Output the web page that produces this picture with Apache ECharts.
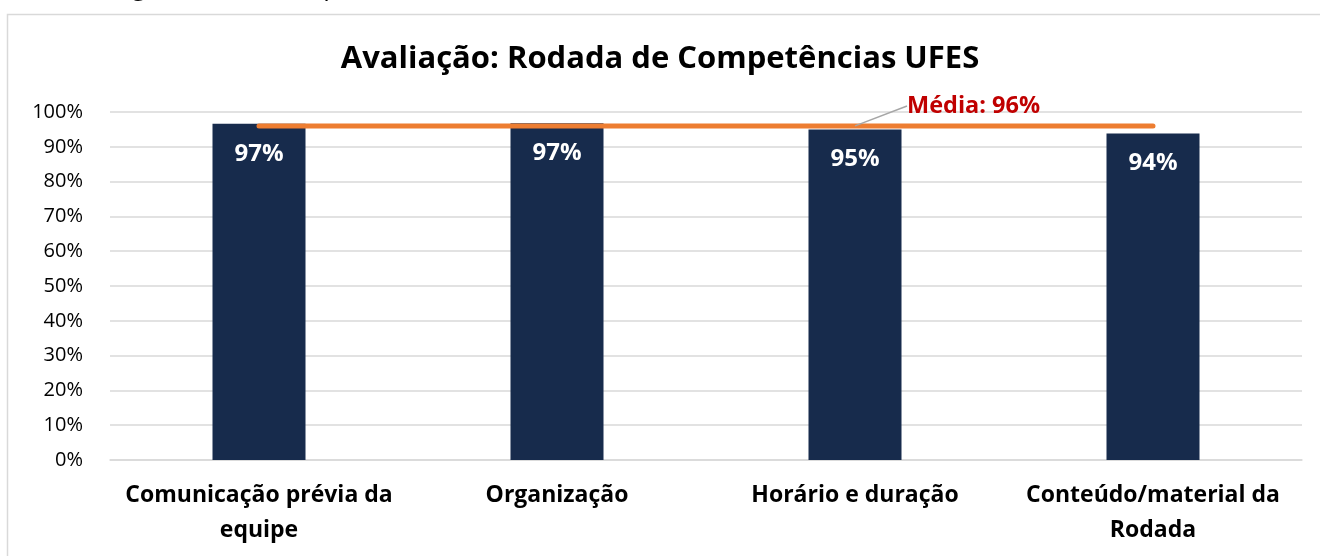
<!DOCTYPE html>
<html>
<head>
<meta charset="utf-8">
<script src="https://cdn.jsdelivr.net/npm/echarts@6/dist/echarts.min.js"></script>
<style>
  html, body { margin: 0; padding: 0; background: #fff; }
  #chart { width: 1320px; height: 556px; }
</style>
</head>
<body>
<div id="chart"></div>
<script>
// categorias e valores (%)
const categories = [
  "Comunicação prévia da\nequipe",
  "Organização",
  "Horário e duração",
  "Conteúdo/material da\nRodada",
];
const values = [96.6, 96.8, 95.0, 93.8];
const valueLabels = ["97%", "97%", "95%", "94%"];
const media = [96, 96, 96, 96];
const mediaLabel = "Média: 96%";
const yTicks = [0, 10, 20, 30, 40, 50, 60, 70, 80, 90, 100];

const font = "'Open Sans', 'Noto Sans', sans-serif";
const myChart = echarts.init(document.getElementById("chart"));

const option = {
  animation: false,
  textStyle: { fontFamily: font },
  title: {
    text: "Avaliação: Rodada de Competências UFES",
    left: "center",
    top: 39,
    textStyle: { fontSize: 31, fontWeight: "bold", color: "#000", fontFamily: font },
  },
  graphic: [
    // moldura
    {
      type: "rect",
      shape: { x: 7.5, y: 14.5, width: 1330, height: 560 },
      style: { fill: "none", stroke: "#D9D9D9", lineWidth: 1.5 },
      z: -1,
    },
    // texto cortado no topo
    {
      type: "text",
      left: 105,
      top: -25,
      style: {
        text: "O gráfico abaixo apresenta os itens avaliados.",
        font: "26px " + font,
        fill: "#000",
      },
    },
  ],
  grid: { left: 110, right: 18, top: 112, bottom: 96 },
  xAxis: {
    type: "category",
    data: categories,
    axisTick: { show: false },
    axisLine: { lineStyle: { color: "#D9D9D9", width: 1.5 } },
    axisLabel: {
      color: "#000",
      fontSize: 23,
      fontWeight: "bold",
      lineHeight: 35,
      margin: 18,
      interval: 0,
    },
  },
  yAxis: {
    type: "value",
    min: 0,
    max: 100,
    interval: 10,
    axisLabel: {
      color: "#000",
      fontSize: 20,
      margin: 27,
      formatter: (v) => (yTicks.includes(v) ? v + "%" : ""),
    },
    splitLine: { lineStyle: { color: "#D9D9D9", width: 1.5 } },
  },
  series: [
    {
      type: "bar",
      data: values,
      barWidth: 93,
      itemStyle: { color: "#172B4C" },
      label: {
        show: true,
        position: "insideTop",
        distance: 18,
        color: "#fff",
        fontSize: 24,
        fontWeight: "bold",
        formatter: (p) => valueLabels[p.dataIndex],
      },
    },
    {
      type: "line",
      data: media.map((v, i) =>
        i === 2
          ? {
              value: v,
              label: {
                show: true,
                formatter: mediaLabel,
                color: "#C00000",
                fontSize: 23.5,
                fontWeight: "bold",
                position: "right",
              },
              labelLine: { show: true, lineStyle: { color: "#A6A6A6", width: 1.5 } },
            }
          : v
      ),
      symbol: "circle",
      symbolSize: 0.1,
      itemStyle: { color: "#ED7D31" },
      lineStyle: { color: "#ED7D31", width: 5, cap: "round" },
      labelLayout: (p) =>
        p.dataIndex === 2 ? { x: 907, y: 106, align: "left", verticalAlign: "middle" } : {},
      z: 5,
    },
  ],
};

myChart.setOption(option);
</script>
</body>
</html>
